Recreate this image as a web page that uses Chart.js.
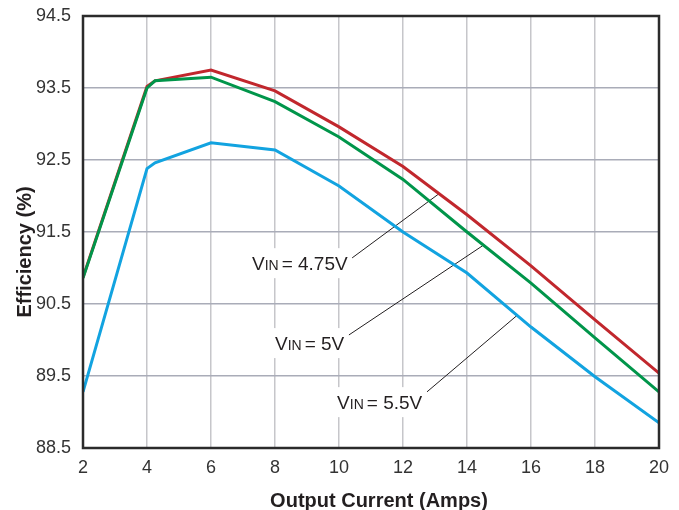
<!DOCTYPE html>
<html>
<head>
<meta charset="utf-8">
<script src="https://cdn.jsdelivr.net/npm/chart.js@4.4.1/dist/chart.umd.min.js"></script>
<style>
  html, body { margin: 0; padding: 0; background: #fff; }
</style>
</head>
<body>
<canvas id="effChart" width="679" height="510"></canvas>
<script>
// Output current (A) and efficiency (%)
const currents = [2, 4, 4.25, 6, 8, 10, 12, 14, 16, 18, 20];
const eff475 = [90.87, 93.52, 93.6, 93.75, 93.46, 92.96, 92.41, 91.74, 91.03, 90.28, 89.54];
const eff5   = [90.86, 93.5, 93.6, 93.65, 93.31, 92.82, 92.23, 91.5, 90.79, 90.03, 89.28];
const eff55  = [89.28, 92.38, 92.46, 92.74, 92.64, 92.14, 91.5, 90.93, 90.18, 89.49, 88.85];

const xTicks = [2, 4, 6, 8, 10, 12, 14, 16, 18, 20];
const yTicks = [88.5, 89.5, 90.5, 91.5, 92.5, 93.5, 94.5];

const seriesNames = ['4.75V', '5V', '5.5V'];

// where the VIN callouts sit (data units): text start, leader start, leader end
const calloutSpots = [
    { text: [7.28, 90.97], from: [10.41, 91.14], to: [13.12, 92.03] },
    { text: [8.0, 89.86],  from: [10.31, 90.07], to: [14.49, 91.31] },
    { text: [9.94, 89.04], from: [12.75, 89.28], to: [15.56, 90.34] }
];

const toPoints = vals => currents.map((c, i) => ({ x: c, y: vals[i] }));

const tickFont = { family: "'Liberation Sans', Arial, sans-serif", size: 18 };

const decorPlugin = {
    id: 'decor',
    beforeDatasetsDraw(chart) {
        const ctx = chart.ctx;
        const xs = chart.scales.x, ys = chart.scales.y;
        ctx.save();
        calloutSpots.forEach((spot, i) => {
            const tx = xs.getPixelForValue(spot.text[0]);
            const ty = ys.getPixelForValue(spot.text[1]);
            ctx.textBaseline = 'alphabetic';
            ctx.textAlign = 'left';
            ctx.font = "19px 'Liberation Sans', Arial, sans-serif";
            const wV = ctx.measureText('V').width;
            const rest = '= ' + seriesNames[i];
            const wRest = ctx.measureText(rest).width;
            ctx.font = "14px 'Liberation Sans', Arial, sans-serif";
            const wIn = ctx.measureText('IN').width;
            const total = wV + wIn + 3 + wRest;
            // white box behind the text hides the grid
            ctx.fillStyle = '#fff';
            ctx.fillRect(tx - 4, ty - 22, total + 8, 30);
            ctx.fillStyle = '#231f20';
            ctx.font = "19px 'Liberation Sans', Arial, sans-serif";
            ctx.fillText('V', tx, ty);
            ctx.font = "14px 'Liberation Sans', Arial, sans-serif";
            ctx.fillText('IN', tx + wV, ty);
            ctx.font = "19px 'Liberation Sans', Arial, sans-serif";
            ctx.fillText(rest, tx + wV + wIn + 3, ty);
            // leader line
            ctx.strokeStyle = '#231f20';
            ctx.lineWidth = 1;
            ctx.beginPath();
            ctx.moveTo(xs.getPixelForValue(spot.from[0]), ys.getPixelForValue(spot.from[1]));
            ctx.lineTo(xs.getPixelForValue(spot.to[0]), ys.getPixelForValue(spot.to[1]));
            ctx.stroke();
        });
        ctx.restore();
    },
    afterDatasetsDraw(chart) {
        const { ctx, chartArea: a } = chart;
        ctx.save();
        ctx.strokeStyle = '#2b2b2b';
        ctx.lineWidth = 2.5;
        ctx.strokeRect(a.left, a.top, a.right - a.left, a.bottom - a.top);
        ctx.restore();
    },
    afterDraw(chart) {
        const ctx = chart.ctx;
        ctx.save();
        ctx.fillStyle = '#231f20';
        ctx.font = "bold 20px 'Liberation Sans', Arial, sans-serif";
        ctx.textAlign = 'center';
        ctx.textBaseline = 'alphabetic';
        ctx.fillText('Output Current (Amps)', 379, 507);
        ctx.translate(31, 252);
        ctx.rotate(-Math.PI / 2);
        ctx.fillText('Efficiency (%)', 0, 0);
        ctx.restore();
    }
};

new Chart(document.getElementById('effChart'), {
    type: 'line',
    data: {
        datasets: [
            { label: 'VIN = 5V', data: toPoints(eff5), borderColor: '#00954a' },
            { label: 'VIN = 4.75V', data: toPoints(eff475), borderColor: '#c1272d' },
            { label: 'VIN = 5.5V', data: toPoints(eff55), borderColor: '#12a3e0' }
        ]
    },
    options: {
        responsive: false,
        devicePixelRatio: 1,
        animation: false,
        layout: { padding: { top: 16, right: 20, left: 0, bottom: 0 } },
        elements: {
            line: { borderWidth: 3, tension: 0 },
            point: { radius: 0 }
        },
        plugins: {
            legend: { display: false },
            tooltip: { enabled: false }
        },
        scales: {
            x: {
                type: 'linear',
                min: 2,
                max: 20,
                afterBuildTicks: s => { s.ticks = xTicks.map(v => ({ value: v })); },
                afterFit: s => { s.height = 62; s.paddingLeft = 0; s.paddingRight = 0; },
                ticks: { color: '#333', font: tickFont, padding: 9, maxRotation: 0 },
                grid: { color: '#c6c6ca', lineWidth: 1.5, drawTicks: false },
                border: { display: false }
            },
            y: {
                min: 88.5,
                max: 94.5,
                afterBuildTicks: s => { s.ticks = yTicks.map(v => ({ value: v })); },
                afterFit: s => { s.width = 83; s.paddingTop = 0; s.paddingBottom = 0; },
                ticks: { color: '#333', font: tickFont, padding: 12, callback: v => v.toFixed(1) },
                grid: { color: '#a9acb8', lineWidth: 1.5, drawTicks: false },
                border: { display: false }
            }
        }
    },
    plugins: [decorPlugin]
});
</script>
</body>
</html>
